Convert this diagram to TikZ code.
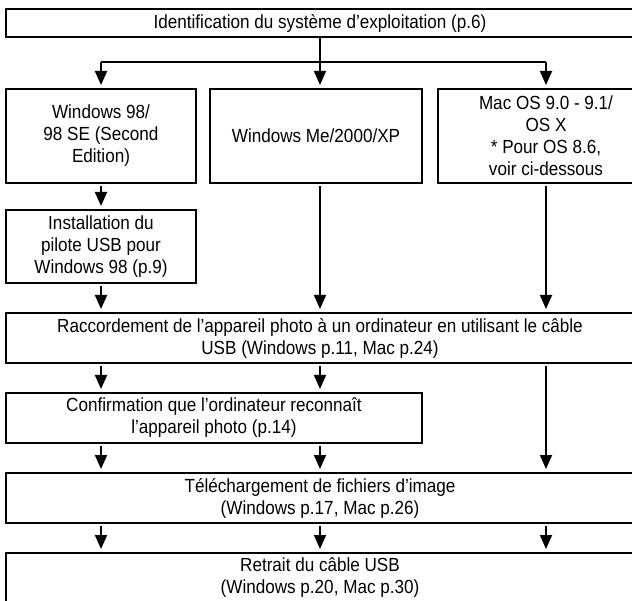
\documentclass[tikz,border=0pt]{standalone}
\usepackage{fontspec}
\setmainfont{Liberation Sans}[FakeStretch=0.9]
\usetikzlibrary{arrows.meta, positioning, calc}

\begin{document}
\begin{tikzpicture}[
    x=1pt, y=1pt,
    >={Triangle[length=14pt, width=12pt]},
    box/.style={draw, line width=2pt, align=center, inner sep=0pt,
                font=\fontsize{19}{22}\selectfont},
    wide/.style={box, minimum width=628pt, minimum height=50pt},
    arr/.style={->, line width=2pt, shorten >=3pt, shorten <=2pt},
    wire/.style={line width=2pt},
]
\clip (0,0) rectangle (632,-601);
\useasboundingbox (0,0) rectangle (632,-601);

% ═══════════════════════════════════════════════════════════════
%  Column positions
% ═══════════════════════════════════════════════════════════════
\coordinate (c1) at (101,0);
\coordinate (c2) at (320,0);
\coordinate (c3) at (546,0);
\coordinate (split) at (320,-62);

% Top: which OS
\node[box, minimum width=628pt, minimum height=28pt] (ident) at (320,-23)
    {Identification du système d’exploitation (p.6)};

% OS boxes
\node[box, minimum width=190pt, minimum height=94pt] (win98) at (101,-136)
    {Windows 98/\\98 SE (Second\\Edition)};
\node[box, minimum width=212pt, minimum height=94pt] (winme) at (316,-136)
    {Windows Me/2000/XP};
\node[box, minimum width=216pt, minimum height=94pt] (mac) at (546,-136)
    {Mac OS 9.0 - 9.1/\\OS X\\* Pour OS 8.6,\\voir ci-dessous};

% Driver (Windows 98 only)
\node[box, minimum width=190pt, minimum height=73pt] (pilote) at (101,-246.5)
    {Installation du\\pilote USB pour\\Windows 98 (p.9)};

% Common steps
\node[wide] (racc) at (320,-338)
    {Raccordement de l’appareil photo à un ordinateur en utilisant le câble\\USB (Windows p.11, Mac p.24)};
\node[box, minimum width=416pt, minimum height=50pt] (confirm) at (214,-418)
    {Confirmation que l’ordinateur reconnaît\\l’appareil photo (p.14)};
\node[wide] (telech) at (320,-498)
    {Téléchargement de fichiers d’image\\(Windows p.17, Mac p.26)};
\node[wide] (retrait) at (320,-578)
    {Retrait du câble USB\\(Windows p.20, Mac p.30)};

% ═══════════════════════════════════════════════════════════════
%  Connectors
% ═══════════════════════════════════════════════════════════════
\draw[wire] (ident.south -| c2) -- (split);
\draw[wire] (split -| c1) -- (split -| c3);
\foreach \n/\c in {win98/c1, winme/c2, mac/c3}
    \draw[arr, shorten <=0pt] (split -| \c) -- (\n.north -| \c);

\draw[arr] (win98.south -| c1) -- (pilote.north -| c1);
\draw[arr] (pilote.south -| c1) -- (racc.north -| c1);
\draw[arr] (winme.south -| c2) -- (racc.north -| c2);
\draw[arr] (mac.south -| c3) -- (racc.north -| c3);

\foreach \c in {c1, c2} {
    \draw[arr] (racc.south -| \c) -- (confirm.north -| \c);
    \draw[arr] (confirm.south -| \c) -- (telech.north -| \c);
}
\draw[arr] (racc.south -| c3) -- (telech.north -| c3);

\foreach \c in {c1, c2, c3}
    \draw[arr] (telech.south -| \c) -- (retrait.north -| \c);

\end{tikzpicture}
\end{document}
